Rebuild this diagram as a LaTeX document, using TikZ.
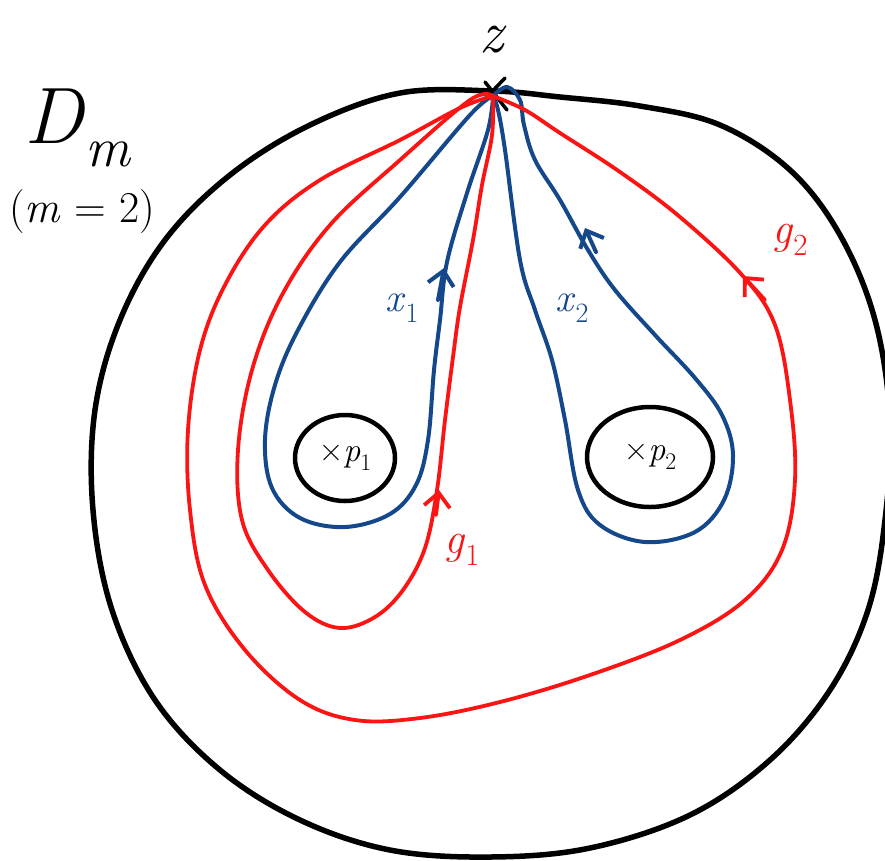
\documentclass[tikz,border=0pt]{standalone}
\usepackage{fontspec}
\usetikzlibrary{arrows.meta,shapes.geometric}

\definecolor{loopblue}{RGB}{20,72,138}
\definecolor{loopred}{RGB}{250,20,20}

\newcommand{\idx}[1]{\raisebox{-0.28em}{\scalebox{0.7}{#1}}}

\tikzset{
  disc edge/.style={line width=5.5pt, line join=round, line cap=round},
  hole/.style={draw, ellipse, line width=4.5pt, inner sep=0pt},
  gen loop/.style={loopblue, line width=4pt, line join=round, line cap=round},
  img loop/.style={loopred, line width=3.8pt, line join=round, line cap=round},
  hat/.style={-{Straight Barb[length=14pt,width=26pt]}},
  lab/.style={font=\fontsize{#1}{#1}\selectfont},
}

\begin{document}
\begin{tikzpicture}[x=1pt,y=-1pt]
\useasboundingbox (0,0) rectangle (885,860);
\clip (0,0) rectangle (885,860);

\coordinate (z) at (493,96);

% the disc
\draw[disc edge] plot[smooth cycle, tension=0.6] coordinates {(493,91) (560,97) (640,106) (720,125) (790,170) (840,235) (875,320) (890,420) (885,520) (868,610) (830,690) (770,760) (690,815) (590,848) (490,857) (390,850) (300,820) (220,770) (155,700) (112,610) (93,510) (95,410) (120,320) (165,240) (230,175) (310,125) (400,93)};
\draw[disc edge, line width=3.5pt] (485,82) -- (507,110);
\draw[disc edge, line width=3.5pt] (505,78) -- (484,100);

% punctures
\node[hole, minimum width=100pt, minimum height=86pt, lab=34] (p1) at (345,458) {×\textit{p}\idx{1}};
\node[hole, minimum width=126pt, minimum height=100pt, lab=34] (p2) at (650,457) {×\textit{p}\idx{2}};

% generators
\draw[gen loop] plot[smooth, tension=0.6] coordinates {(z) (470,115) (400,197) (340,262) (298,330) (275,385) (265,440) (272,488) (300,518) (345,527) (390,514) (416,485) (428,440) (434,370) (440,320) (447,262) (467,193) (488,130) (z)};
\draw[gen loop] plot[smooth, tension=0.6] coordinates {(z) (498,110) (505,150) (520,260) (535,310) (552,360) (565,420) (578,490) (600,525) (645,542) (695,532) (724,500) (733,455) (722,415) (695,378) (655,335) (615,290) (588,250) (560,200) (535,160) (524,125) (520,100) (507,87) (z)};

% images
\draw[img loop] plot[smooth, tension=0.6] coordinates {(z) (470,100) (400,160) (330,225) (282,295) (252,370) (238,450) (242,520) (268,570) (305,612) (340,628) (375,617) (403,590) (425,548) (437,490) (445,420) (453,357) (460,307) (473,240) (482,185) (492,135) (z)};
\draw[img loop] plot[smooth, tension=0.6] coordinates {(z) (460,108) (400,140) (320,180) (265,225) (225,285) (200,350) (188,430) (190,510) (205,585) (245,650) (300,700) (355,720) (420,718) (500,702) (590,675) (680,640) (745,600) (782,550) (795,480) (790,400) (775,325) (742,275) (680,217) (620,172) (560,133) (525,110) (z)};

% orientations
\draw[gen loop, hat] (438,300) -- (444,268);
\draw[gen loop, hat] (596,252) -- (585,228);
\draw[img loop, hat] (436,515) -- (439,490);
\draw[img loop, hat] (765,300) -- (743,276);

% labels
\node[lab=60] (zlab) at (493,40) {\textit{z}};
\node[lab=80] (dlab) at (78,128) {\textit{D}\idx{\textit{m}}};
\node[lab=44] (mlab) at (82,212) {(\textit{m} = 2)};
\node[loopblue, lab=40] (x1lab) at (402,308) {\textit{x}\idx{1}};
\node[loopblue, lab=40] (x2lab) at (572,308) {\textit{x}\idx{2}};
\node[loopred, lab=44] (g1lab) at (462,550) {\textit{g}\idx{1}};
\node[loopred, lab=44] (g2lab) at (790,240) {\textit{g}\idx{2}};
\end{tikzpicture}
\end{document}
